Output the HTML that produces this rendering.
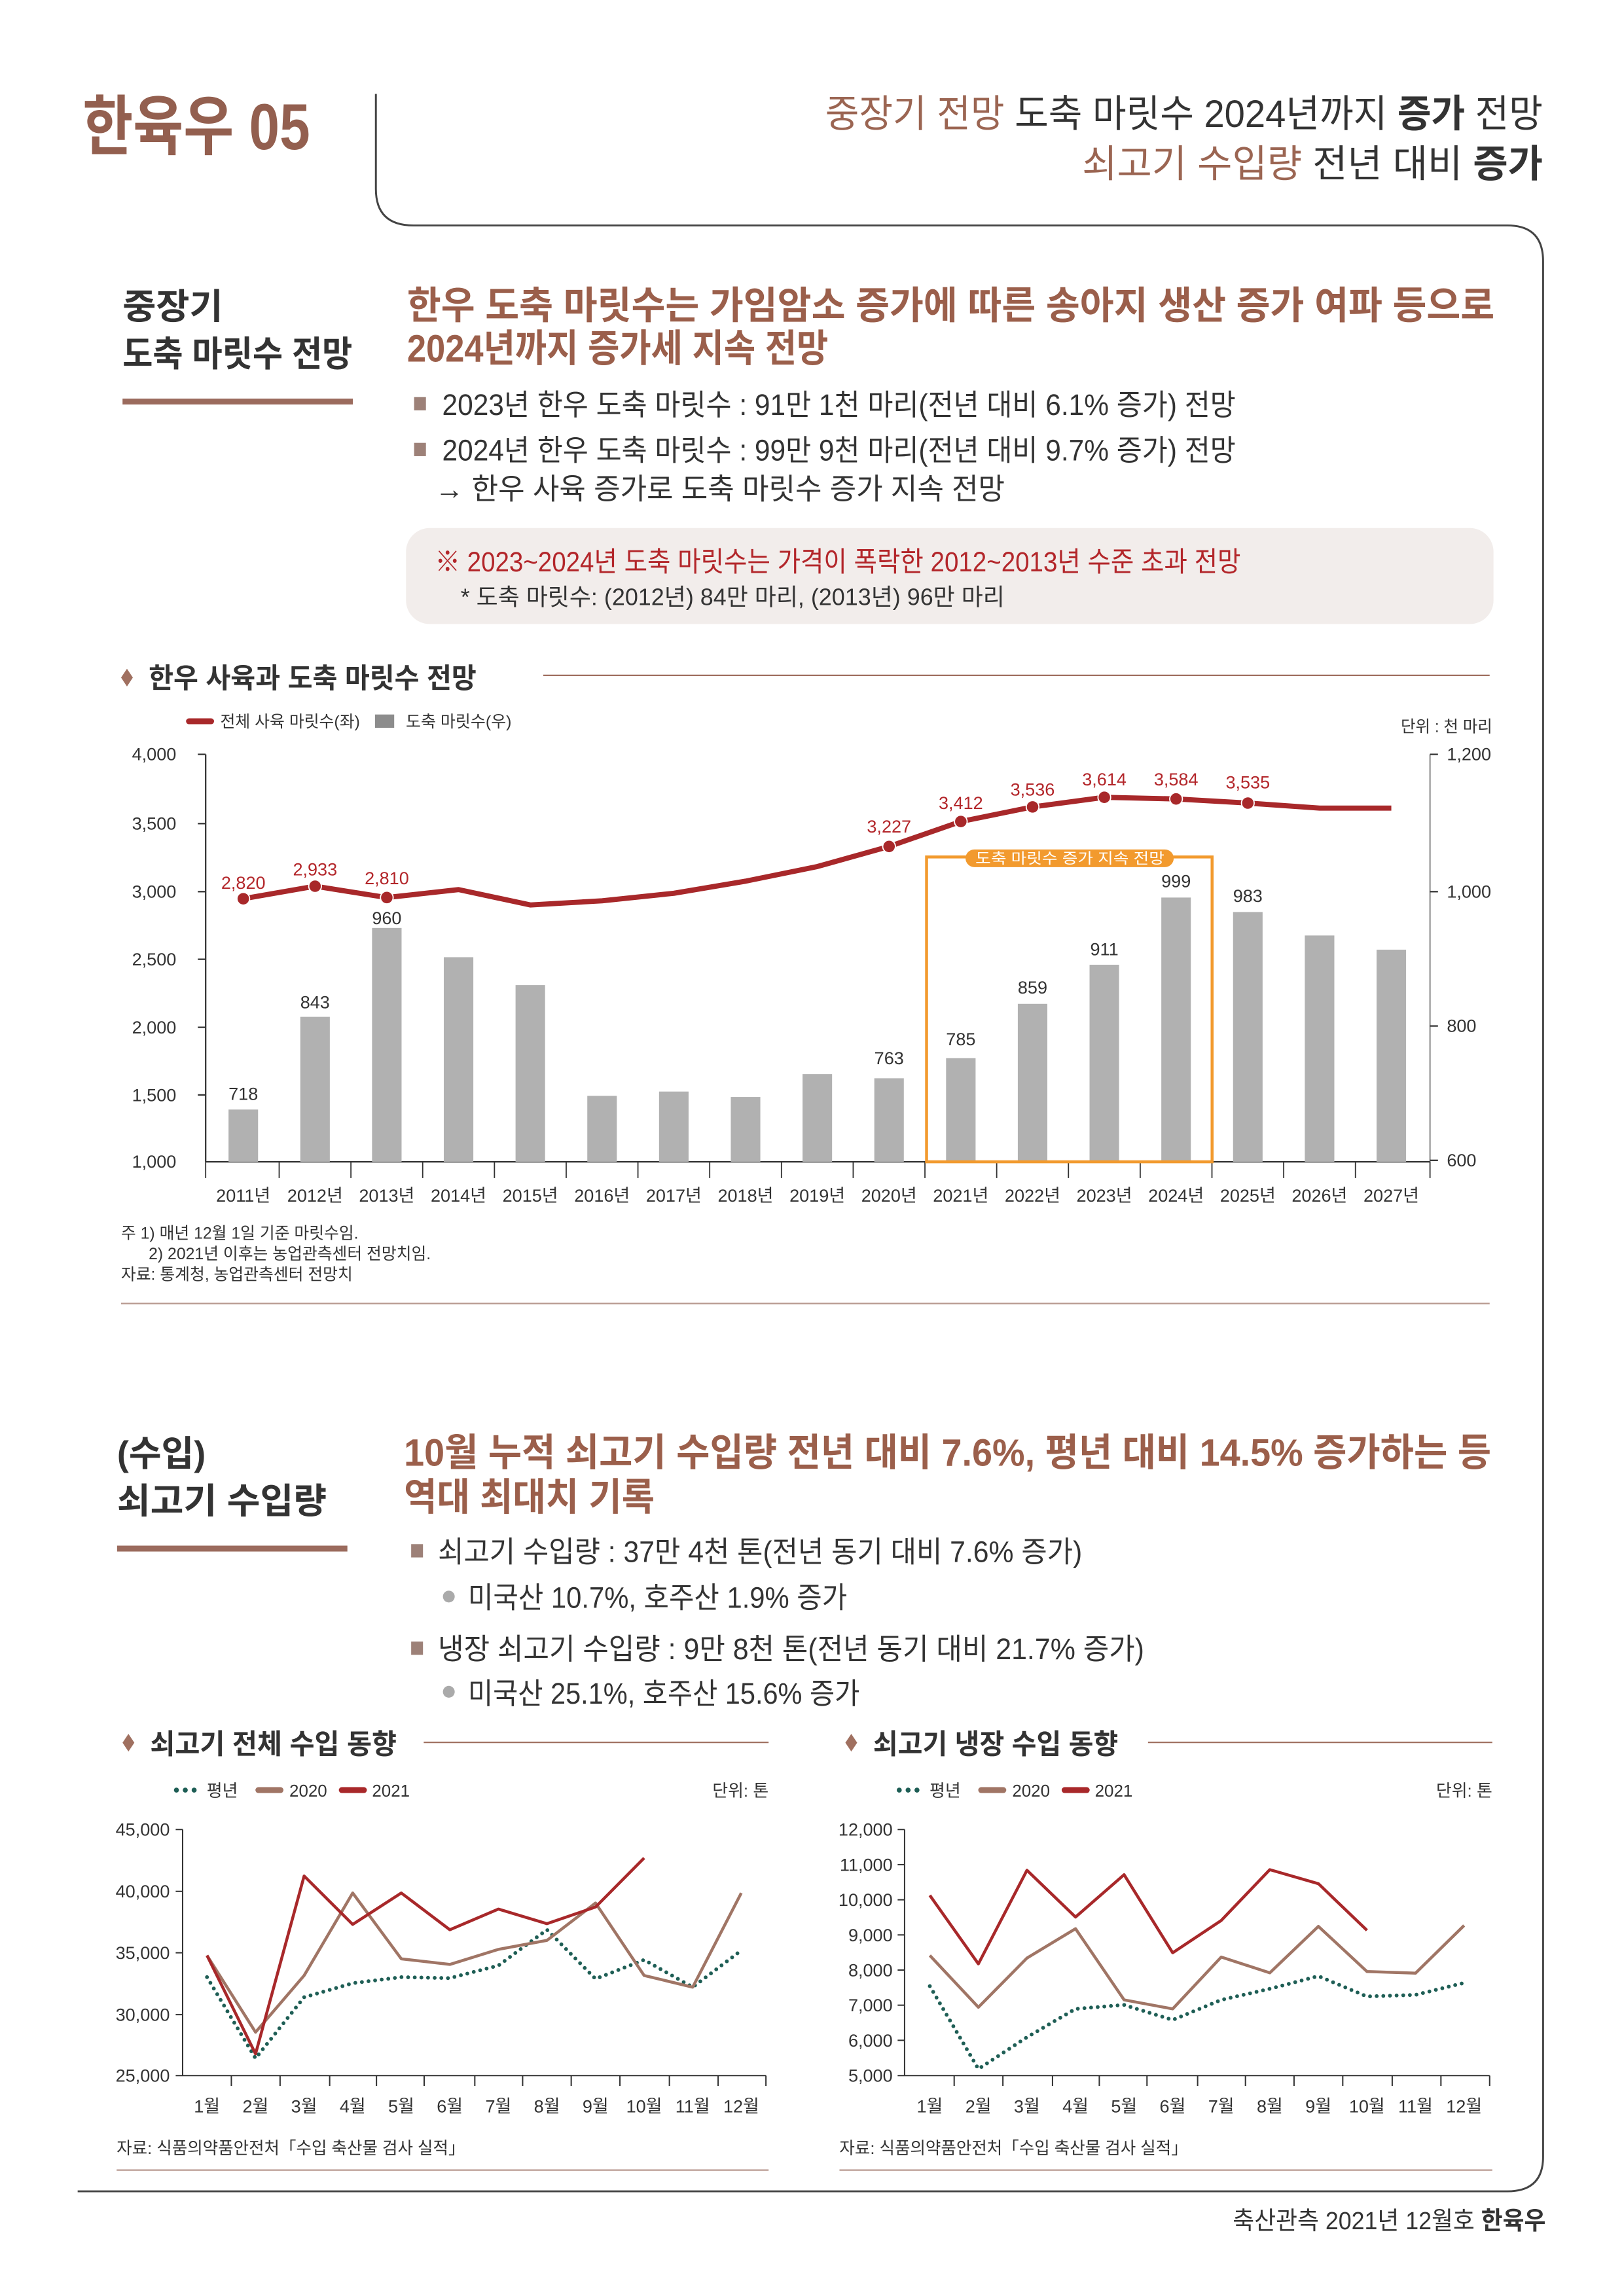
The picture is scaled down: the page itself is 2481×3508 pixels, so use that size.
<!DOCTYPE html>
<html><head><meta charset="utf-8"><style>
html,body{margin:0;padding:0;background:#fff;}
svg{display:block;}
text{font-family:"Liberation Sans","Noto Sans CJK KR",sans-serif;}
</style></head><body>
<svg width="2481" height="3508" viewBox="0 0 1100 1555.3" preserveAspectRatio="none" xmlns="http://www.w3.org/2000/svg">
<rect width="1100" height="1555.3" fill="#fff"/>
<!-- frame -->
<path d="M254.6,63.6 V128 Q254.6,152.7 280,152.7 H1021 Q1045.2,152.7 1045.2,177 V1461 Q1045.2,1484.4 1021,1484.4 H52.6" fill="none" stroke="#444" stroke-width="1.3"/>

<!-- header -->
<text x="56" y="101" font-size="44" font-weight="bold" fill="#935f4f" textLength="154" lengthAdjust="spacingAndGlyphs">한육우 05</text>
<text x="559" y="86" font-size="26" fill="#333" textLength="486" lengthAdjust="spacingAndGlyphs"><tspan fill="#9b6552">중장기 전망</tspan>  도축 마릿수 2024년까지 <tspan font-weight="bold">증가</tspan> 전망</text>
<text x="733" y="120" font-size="26" fill="#333" textLength="312" lengthAdjust="spacingAndGlyphs"><tspan fill="#9b6552">쇠고기 수입량</tspan>  전년 대비 <tspan font-weight="bold">증가</tspan></text>

<!-- section 1 -->
<text x="83" y="216" font-size="24" font-weight="bold" fill="#333" textLength="68" lengthAdjust="spacingAndGlyphs">중장기</text>
<text x="83" y="248" font-size="24" font-weight="bold" fill="#333" textLength="155.7" lengthAdjust="spacingAndGlyphs">도축 마릿수 전망</text>
<rect x="83" y="270" width="156" height="4" fill="#9b6b5d"/>
<text x="275.7" y="216" font-size="26" font-weight="bold" fill="#9b5f4b" textLength="736.6" lengthAdjust="spacingAndGlyphs">한우 도축 마릿수는 가임암소 증가에 따른 송아지 생산 증가 여파 등으로</text>
<text x="275.7" y="245" font-size="26" font-weight="bold" fill="#9b5f4b" textLength="285.3" lengthAdjust="spacingAndGlyphs">2024년까지 증가세 지속 전망</text>
<rect x="280.5" y="269" width="8" height="9" fill="#9d8178"/>
<text x="299.5" y="281" font-size="20" fill="#333" textLength="537.5" lengthAdjust="spacingAndGlyphs">2023년 한우 도축 마릿수 : 91만 1천 마리(전년 대비 6.1% 증가) 전망</text>
<rect x="280.5" y="300" width="8" height="9" fill="#9d8178"/>
<text x="299.5" y="312" font-size="20" fill="#333" textLength="537.5" lengthAdjust="spacingAndGlyphs">2024년 한우 도축 마릿수 : 99만 9천 마리(전년 대비 9.7% 증가) 전망</text>
<text x="294.6" y="338" font-size="20" fill="#333" textLength="386" lengthAdjust="spacingAndGlyphs">→ 한우 사육 증가로 도축 마릿수 증가 지속 전망</text>
<rect x="275" y="357.7" width="736.6" height="65" rx="16" fill="#f2edeb"/>
<text x="294.6" y="387" font-size="19" fill="#b3262a" textLength="545.8" lengthAdjust="spacingAndGlyphs">※ 2023~2024년 도축 마릿수는 가격이 폭락한 2012~2013년 수준 초과 전망</text>
<text x="312" y="410" font-size="16" fill="#333" textLength="368.5" lengthAdjust="spacingAndGlyphs">* 도축 마릿수: (2012년) 84만 마리, (2013년) 96만 마리</text>

<!-- chart 1 title -->
<path d="M86,453 L90,459 L86,465 L82,459 Z" fill="#a07060"/>
<text x="100.7" y="466" font-size="19" font-weight="bold" fill="#333" textLength="222" lengthAdjust="spacingAndGlyphs">한우 사육과 도축 마릿수 전망</text>
<line x1="368" y1="457.5" x2="1009" y2="457.5" stroke="#a07060" stroke-width="1"/>
<line x1="128" y1="488.6" x2="143" y2="488.6" stroke="#a8282a" stroke-width="4" stroke-linecap="round"/>
<text x="149.2" y="492.5" font-size="11" fill="#333" textLength="94.6" lengthAdjust="spacingAndGlyphs">전체 사육 마릿수(좌)</text>
<rect x="254" y="484" width="13" height="9" fill="#8c8c8c"/>
<text x="274.9" y="492.5" font-size="11" fill="#333" textLength="71.6" lengthAdjust="spacingAndGlyphs">도축 마릿수(우)</text>
<text x="1010.8" y="496" font-size="11" fill="#333" text-anchor="end" textLength="62" lengthAdjust="spacingAndGlyphs">단위 : 천 마리</text>

<!-- axes chart1 -->
<g stroke="#333" stroke-width="1">
<line x1="139.3" y1="511" x2="139.3" y2="787"/>
<line x1="968.6" y1="511" x2="968.6" y2="787" stroke="#999"/>
<line x1="139.3" y1="787" x2="968.6" y2="787"/>
<line x1="134" y1="511" x2="139.3" y2="511"/><line x1="134" y1="557.9" x2="139.3" y2="557.9"/><line x1="134" y1="604" x2="139.3" y2="604"/><line x1="134" y1="649.8" x2="139.3" y2="649.8"/><line x1="134" y1="695.9" x2="139.3" y2="695.9"/><line x1="134" y1="741.7" x2="139.3" y2="741.7"/>
<line x1="968.6" y1="511" x2="974" y2="511"/><line x1="968.6" y1="604" x2="974" y2="604"/><line x1="968.6" y1="695" x2="974" y2="695"/><line x1="968.6" y1="786" x2="974" y2="786"/>
</g>
<g stroke="#333" stroke-width="0.8">
<line x1="139.3" y1="787" x2="139.3" y2="798"/><line x1="189.1" y1="787" x2="189.1" y2="798"/><line x1="237.7" y1="787" x2="237.7" y2="798"/><line x1="286.3" y1="787" x2="286.3" y2="798"/><line x1="334.9" y1="787" x2="334.9" y2="798"/><line x1="383.5" y1="787" x2="383.5" y2="798"/><line x1="432.1" y1="787" x2="432.1" y2="798"/><line x1="480.7" y1="787" x2="480.7" y2="798"/><line x1="529.3" y1="787" x2="529.3" y2="798"/><line x1="577.9" y1="787" x2="577.9" y2="798"/><line x1="626.5" y1="787" x2="626.5" y2="798"/><line x1="675.1" y1="787" x2="675.1" y2="798"/><line x1="723.7" y1="787" x2="723.7" y2="798"/><line x1="772.3" y1="787" x2="772.3" y2="798"/><line x1="820.9" y1="787" x2="820.9" y2="798"/><line x1="869.5" y1="787" x2="869.5" y2="798"/><line x1="918.1" y1="787" x2="918.1" y2="798"/><line x1="968.6" y1="787" x2="968.6" y2="798"/>
</g>
<g font-size="12" fill="#333" text-anchor="end">
<text x="119.4" y="515">4,000</text><text x="119.4" y="562">3,500</text><text x="119.4" y="608">3,000</text><text x="119.4" y="654">2,500</text><text x="119.4" y="700">2,000</text><text x="119.4" y="746">1,500</text><text x="119.4" y="791">1,000</text>
</g>
<g font-size="12" fill="#333">
<text x="980" y="515">1,200</text><text x="980" y="608">1,000</text><text x="980" y="699">800</text><text x="980" y="790">600</text>
</g>
<g font-size="12" fill="#333" text-anchor="middle">
<text x="164.8" y="814">2011년</text><text x="213.4" y="814">2012년</text><text x="262" y="814">2013년</text><text x="310.6" y="814">2014년</text><text x="359.2" y="814">2015년</text><text x="407.8" y="814">2016년</text><text x="456.4" y="814">2017년</text><text x="505" y="814">2018년</text><text x="553.6" y="814">2019년</text><text x="602.2" y="814">2020년</text><text x="650.8" y="814">2021년</text><text x="699.4" y="814">2022년</text><text x="748" y="814">2023년</text><text x="796.6" y="814">2024년</text><text x="845.2" y="814">2025년</text><text x="893.8" y="814">2026년</text><text x="942.4" y="814">2027년</text>
</g>
<!-- bars -->
<g fill="#b1b1b1">
<rect x="154.8" y="751.6" width="20" height="35.4"/>
<rect x="203.4" y="688.8" width="20" height="98.2"/>
<rect x="252" y="628.6" width="20" height="158.4"/>
<rect x="300.6" y="648.4" width="20" height="138.6"/>
<rect x="349.2" y="667.3" width="20" height="119.7"/>
<rect x="397.8" y="742.3" width="20" height="44.7"/>
<rect x="446.4" y="739.4" width="20" height="47.6"/>
<rect x="495" y="743.1" width="20" height="43.9"/>
<rect x="543.6" y="727.6" width="20" height="59.4"/>
<rect x="592.2" y="730.4" width="20" height="56.6"/>
<rect x="640.8" y="716.8" width="20" height="70.2"/>
<rect x="689.4" y="680" width="20" height="107"/>
<rect x="738" y="653.5" width="20" height="133.5"/>
<rect x="786.6" y="608" width="20" height="179"/>
<rect x="835.2" y="617.8" width="20" height="169.2"/>
<rect x="883.8" y="633.7" width="20" height="153.3"/>
<rect x="932.4" y="643.3" width="20" height="143.7"/>
</g>
<!-- orange box -->
<rect x="627.6" y="580.5" width="193.4" height="206.5" fill="none" stroke="#f29a2e" stroke-width="2"/>
<rect x="654" y="575.4" width="141" height="12" rx="6" fill="#f29a2e"/>
<text x="724.7" y="585" font-size="10" fill="#fff" text-anchor="middle" textLength="128" lengthAdjust="spacingAndGlyphs">도축 마릿수 증가 지속 전망</text>
<!-- line -->
<polyline fill="none" stroke="#a8282a" stroke-width="3.5" stroke-linejoin="round" points="164.8,608.8 213.4,600.3 262,608 310.6,602.6 359.2,613 407.8,610.2 456.4,605.1 505,596.9 553.6,587 602.2,573.4 650.8,556.5 699.4,546.6 748,540.1 796.6,541.2 845.2,544 893.8,547.4 942.4,547.4"/>
<g fill="#a8282a" stroke="#fff" stroke-width="0.8">
<circle cx="164.8" cy="608.8" r="4.3"/><circle cx="213.4" cy="600.3" r="4.3"/><circle cx="262" cy="608" r="4.3"/><circle cx="602.2" cy="573.4" r="4.3"/><circle cx="650.8" cy="556.5" r="4.3"/><circle cx="699.4" cy="546.6" r="4.3"/><circle cx="748" cy="540.1" r="4.3"/><circle cx="796.6" cy="541.2" r="4.3"/><circle cx="845.2" cy="544" r="4.3"/>
</g>
<g font-size="12" fill="#b3262a" text-anchor="middle">
<text x="164.8" y="602">2,820</text><text x="213.4" y="593">2,933</text><text x="262" y="599">2,810</text><text x="602.2" y="564">3,227</text><text x="650.8" y="548">3,412</text><text x="699.4" y="539">3,536</text><text x="748" y="532">3,614</text><text x="796.6" y="532">3,584</text><text x="845.2" y="534">3,535</text>
</g>
<g font-size="12" fill="#333" text-anchor="middle">
<text x="164.8" y="745">718</text><text x="213.4" y="683">843</text><text x="262" y="626">960</text><text x="602.2" y="721">763</text><text x="650.8" y="708">785</text><text x="699.4" y="673">859</text><text x="748" y="647">911</text><text x="796.6" y="601">999</text><text x="845.2" y="611">983</text>
</g>
<g font-size="11" fill="#333">
<text x="82" y="839">주  1) 매년 12월 1일 기준 마릿수임.</text>
<text x="100.7" y="853">2) 2021년 이후는 농업관측센터 전망치임.</text>
<text x="82" y="867">자료: 통계청, 농업관측센터 전망치</text>
</g>
<line x1="82" y1="883" x2="1009" y2="883" stroke="#b89a90" stroke-width="1"/>

<!-- section 2 -->
<text x="79.3" y="993" font-size="24" font-weight="bold" fill="#333" textLength="60" lengthAdjust="spacingAndGlyphs">(수입)</text>
<text x="79.3" y="1025" font-size="24" font-weight="bold" fill="#333" textLength="142" lengthAdjust="spacingAndGlyphs">쇠고기 수입량</text>
<rect x="79.3" y="1047" width="156" height="4" fill="#9b6b5d"/>
<text x="273.6" y="993" font-size="26" font-weight="bold" fill="#9b5f4b" textLength="736.4" lengthAdjust="spacingAndGlyphs">10월 누적 쇠고기 수입량 전년 대비 7.6%, 평년 대비 14.5% 증가하는 등</text>
<text x="273.6" y="1023" font-size="26" font-weight="bold" fill="#9b5f4b" textLength="169.8" lengthAdjust="spacingAndGlyphs">역대 최대치 기록</text>
<rect x="278.5" y="1046" width="8" height="9" fill="#9d8178"/>
<text x="296.7" y="1058" font-size="20" fill="#333" textLength="436.3" lengthAdjust="spacingAndGlyphs">쇠고기 수입량 : 37만 4천 톤(전년 동기 대비 7.6% 증가)</text>
<circle cx="304" cy="1081.5" r="4" fill="#aaa"/>
<text x="317" y="1089" font-size="20" fill="#333" textLength="256.8" lengthAdjust="spacingAndGlyphs">미국산 10.7%, 호주산 1.9% 증가</text>
<rect x="278.5" y="1112" width="8" height="9" fill="#9d8178"/>
<text x="296.7" y="1124" font-size="20" fill="#333" textLength="478.3" lengthAdjust="spacingAndGlyphs">냉장 쇠고기 수입량 : 9만 8천 톤(전년 동기 대비 21.7% 증가)</text>
<circle cx="304" cy="1146" r="4" fill="#aaa"/>
<text x="317" y="1154" font-size="20" fill="#333" textLength="265.3" lengthAdjust="spacingAndGlyphs">미국산 25.1%, 호주산 15.6% 증가</text>

<!-- chart 2 (left) -->
<path d="M87,1174.5 L91,1180.5 L87,1186.5 L83,1180.5 Z" fill="#a07060"/>
<text x="101.7" y="1188" font-size="19" font-weight="bold" fill="#333" textLength="167" lengthAdjust="spacingAndGlyphs">쇠고기 전체 수입 동향</text>
<line x1="287" y1="1180.3" x2="520.6" y2="1180.3" stroke="#a07060" stroke-width="1"/>
<g id="leg">
<circle cx="119.5" cy="1212.6" r="1.7" fill="#1e5e55"/><circle cx="125.5" cy="1212.6" r="1.7" fill="#1e5e55"/><circle cx="131.5" cy="1212.6" r="1.7" fill="#1e5e55"/>
<text x="140" y="1217" font-size="11.5" fill="#333">평년</text>
<line x1="175" y1="1212.6" x2="190" y2="1212.6" stroke="#a07565" stroke-width="4" stroke-linecap="round"/>
<text x="196" y="1217" font-size="11.5" fill="#333">2020</text>
<line x1="231.5" y1="1212.6" x2="246.5" y2="1212.6" stroke="#a8282a" stroke-width="4" stroke-linecap="round"/>
<text x="252" y="1217" font-size="11.5" fill="#333">2021</text>
</g>
<text x="520.6" y="1217" font-size="11.5" fill="#333" text-anchor="end">단위: 톤</text>
<g stroke="#333" stroke-width="0.9">
<line x1="123.7" y1="1239.3" x2="123.7" y2="1406"/><line x1="123.7" y1="1406" x2="518.8" y2="1406"/>
<line x1="119" y1="1239.3" x2="123.7" y2="1239.3"/><line x1="119" y1="1281.2" x2="123.7" y2="1281.2"/><line x1="119" y1="1322.8" x2="123.7" y2="1322.8"/><line x1="119" y1="1364.7" x2="123.7" y2="1364.7"/><line x1="119" y1="1406" x2="123.7" y2="1406"/>
<line x1="156.7" y1="1406" x2="156.7" y2="1413"/><line x1="189.7" y1="1406" x2="189.7" y2="1413"/><line x1="223.3" y1="1406" x2="223.3" y2="1413"/><line x1="255" y1="1406" x2="255" y2="1413"/><line x1="287.3" y1="1406" x2="287.3" y2="1413"/><line x1="321.6" y1="1406" x2="321.6" y2="1413"/><line x1="354" y1="1406" x2="354" y2="1413"/><line x1="386.9" y1="1406" x2="386.9" y2="1413"/><line x1="419.9" y1="1406" x2="419.9" y2="1413"/><line x1="453.4" y1="1406" x2="453.4" y2="1413"/><line x1="486.4" y1="1406" x2="486.4" y2="1413"/><line x1="518.8" y1="1406" x2="518.8" y2="1413"/>
</g>
<g font-size="12" fill="#333" text-anchor="end">
<text x="115" y="1243.5">45,000</text><text x="115" y="1285.4">40,000</text><text x="115" y="1327">35,000</text><text x="115" y="1368.9">30,000</text><text x="115" y="1410.2">25,000</text>
</g>
<g font-size="12" fill="#333" text-anchor="middle">
<text x="140.2" y="1431">1월</text><text x="173.1" y="1431">2월</text><text x="206" y="1431">3월</text><text x="238.9" y="1431">4월</text><text x="271.8" y="1431">5월</text><text x="304.7" y="1431">6월</text><text x="337.6" y="1431">7월</text><text x="370.5" y="1431">8월</text><text x="403.4" y="1431">9월</text><text x="436.3" y="1431">10월</text><text x="469.2" y="1431">11월</text><text x="502.1" y="1431">12월</text>
</g>
<polyline fill="none" stroke="#1e5e55" stroke-width="2.6" stroke-linecap="round" stroke-dasharray="0 4.5" points="140.2,1339.3 173.1,1394.3 206,1352.9 238.9,1343.4 271.8,1339.3 304.7,1340 337.6,1331.4 370.5,1307.2 403.4,1340.5 436.3,1327.6 469.2,1346.1 502.1,1321.2"/>
<polyline fill="none" stroke="#a07565" stroke-width="2" stroke-linejoin="round" points="140.2,1324.6 173.1,1376.6 206,1338.2 238.9,1282.3 271.8,1326.9 304.7,1330.7 337.6,1320.5 370.5,1314.4 403.4,1289.1 436.3,1338.2 469.2,1346.1 502.1,1282.3"/>
<polyline fill="none" stroke="#a8282a" stroke-width="2" stroke-linejoin="round" points="140.2,1324.6 173.1,1391.3 206,1270.8 238.9,1303.6 271.8,1282.3 304.7,1307.2 337.6,1293.2 370.5,1303.1 403.4,1291.8 436.3,1258.6"/>
<text x="79" y="1459" font-size="11.5" fill="#333" textLength="236" lengthAdjust="spacingAndGlyphs">자료: 식품의약품안전처「수입 축산물 검사 실적」</text>
<line x1="79" y1="1470" x2="520.6" y2="1470" stroke="#b89a90" stroke-width="1"/>

<!-- chart 3 (right) -->
<path d="M576.6,1174.5 L580.6,1180.5 L576.6,1186.5 L572.6,1180.5 Z" fill="#a07060"/>
<text x="591.4" y="1188" font-size="19" font-weight="bold" fill="#333" textLength="166" lengthAdjust="spacingAndGlyphs">쇠고기 냉장 수입 동향</text>
<line x1="777.6" y1="1180.3" x2="1010.8" y2="1180.3" stroke="#a07060" stroke-width="1"/>
<use href="#leg" x="489.6" y="0"/>
<text x="1010.8" y="1217" font-size="11.5" fill="#333" text-anchor="end">단위: 톤</text>
<g stroke="#333" stroke-width="0.9">
<line x1="612.7" y1="1239.3" x2="612.7" y2="1406"/><line x1="612.7" y1="1406" x2="1009" y2="1406"/>
<line x1="608" y1="1239.3" x2="612.7" y2="1239.3"/><line x1="608" y1="1263.1" x2="612.7" y2="1263.1"/><line x1="608" y1="1286.9" x2="612.7" y2="1286.9"/><line x1="608" y1="1310.7" x2="612.7" y2="1310.7"/><line x1="608" y1="1334.5" x2="612.7" y2="1334.5"/><line x1="608" y1="1358.3" x2="612.7" y2="1358.3"/><line x1="608" y1="1382.1" x2="612.7" y2="1382.1"/><line x1="608" y1="1406" x2="612.7" y2="1406"/>
<line x1="646.3" y1="1406" x2="646.3" y2="1413"/><line x1="679.3" y1="1406" x2="679.3" y2="1413"/><line x1="712.9" y1="1406" x2="712.9" y2="1413"/><line x1="744.6" y1="1406" x2="744.6" y2="1413"/><line x1="776.9" y1="1406" x2="776.9" y2="1413"/><line x1="811.2" y1="1406" x2="811.2" y2="1413"/><line x1="843.6" y1="1406" x2="843.6" y2="1413"/><line x1="876.5" y1="1406" x2="876.5" y2="1413"/><line x1="909.5" y1="1406" x2="909.5" y2="1413"/><line x1="943" y1="1406" x2="943" y2="1413"/><line x1="976" y1="1406" x2="976" y2="1413"/><line x1="1009" y1="1406" x2="1009" y2="1413"/>
</g>
<g font-size="12" fill="#333" text-anchor="end">
<text x="604.6" y="1243.5">12,000</text><text x="604.6" y="1267.3">11,000</text><text x="604.6" y="1291.1">10,000</text><text x="604.6" y="1314.9">9,000</text><text x="604.6" y="1338.7">8,000</text><text x="604.6" y="1362.5">7,000</text><text x="604.6" y="1386.3">6,000</text><text x="604.6" y="1410.2">5,000</text>
</g>
<g font-size="12" fill="#333" text-anchor="middle">
<text x="629.8" y="1431">1월</text><text x="662.7" y="1431">2월</text><text x="695.6" y="1431">3월</text><text x="728.5" y="1431">4월</text><text x="761.4" y="1431">5월</text><text x="794.3" y="1431">6월</text><text x="827.2" y="1431">7월</text><text x="860.1" y="1431">8월</text><text x="893" y="1431">9월</text><text x="925.9" y="1431">10월</text><text x="958.8" y="1431">11월</text><text x="991.7" y="1431">12월</text>
</g>
<polyline fill="none" stroke="#1e5e55" stroke-width="2.6" stroke-linecap="round" stroke-dasharray="0 4.5" points="629.8,1345.4 662.7,1401.5 695.6,1380 728.5,1360.8 761.4,1358.1 794.3,1368.3 827.2,1354.7 860.1,1347.2 893,1338.6 925.9,1352.4 958.8,1351.3 991.7,1343.2"/>
<polyline fill="none" stroke="#a07565" stroke-width="2" stroke-linejoin="round" points="629.8,1324.6 662.7,1359.7 695.6,1326.4 728.5,1306.5 761.4,1354.7 794.3,1360.8 827.2,1325.7 860.1,1336.4 893,1304.9 925.9,1335.5 958.8,1336.6 991.7,1304.3"/>
<polyline fill="none" stroke="#a8282a" stroke-width="2" stroke-linejoin="round" points="629.8,1283.9 662.7,1330.3 695.6,1266.9 728.5,1298.6 761.4,1269.9 794.3,1322.8 827.2,1300.9 860.1,1266.5 893,1276 925.9,1307.6"/>
<text x="568.6" y="1459" font-size="11.5" fill="#333" textLength="236" lengthAdjust="spacingAndGlyphs">자료: 식품의약품안전처「수입 축산물 검사 실적」</text>
<line x1="568.6" y1="1470" x2="1010.8" y2="1470" stroke="#b89a90" stroke-width="1"/>

<!-- footer -->
<text x="1047" y="1510" font-size="17" fill="#333" text-anchor="end" textLength="212" lengthAdjust="spacingAndGlyphs">축산관측 2021년 12월호 <tspan font-weight="bold">한육우</tspan></text>
</svg>
</body></html>
